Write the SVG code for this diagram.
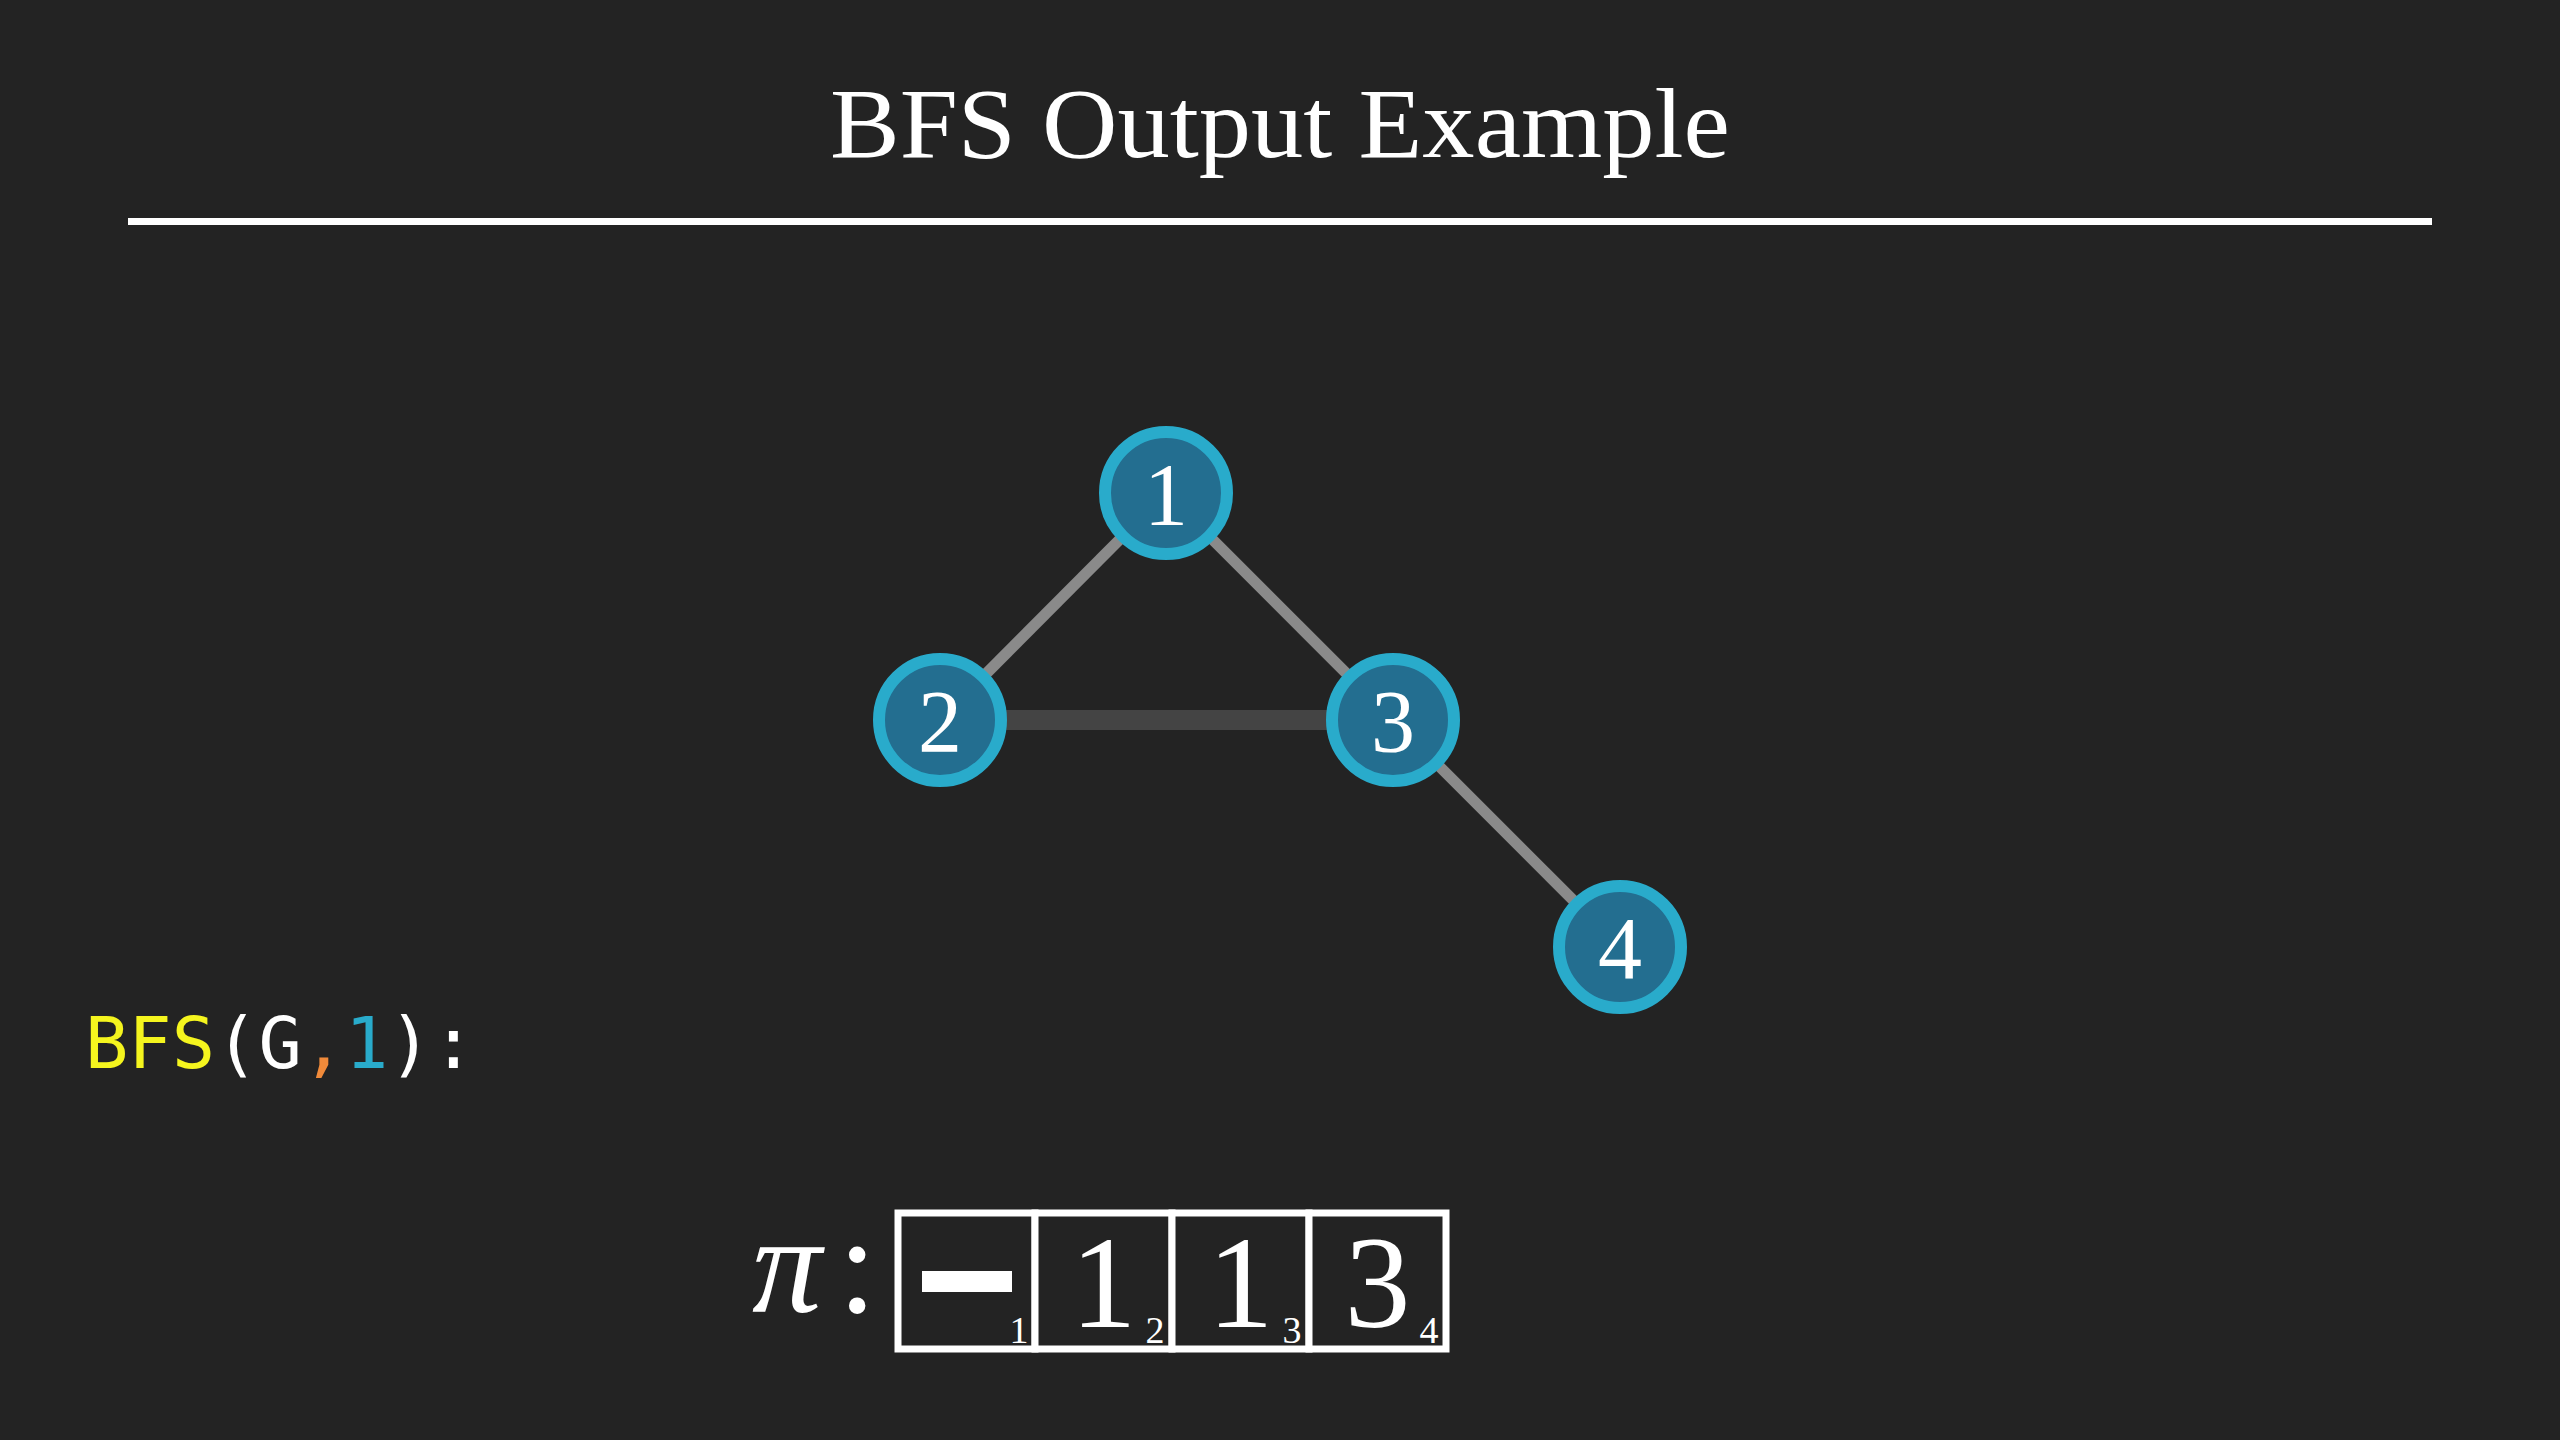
<svg xmlns="http://www.w3.org/2000/svg" width="2560" height="1440" viewBox="0 0 2560 1440">
<style>
.title{font-family:"Liberation Serif","DejaVu Serif",serif;font-size:100px;fill:#ffffff}
.node circle{fill:#236e90;stroke:#29abcb;stroke-width:12}
.node text{font-family:"Liberation Serif","DejaVu Serif",serif;font-size:88px;fill:#ffffff;text-anchor:middle}
.edge{stroke:#8a8a8a;stroke-width:11}
.edge.dim{stroke:#444444;stroke-width:20}
.code{font-family:"DejaVu Sans Mono","Liberation Mono",monospace;font-size:72px}
.cell{fill:#232323;stroke:#ffffff;stroke-width:7}
.big{font-family:"Liberation Serif","DejaVu Serif",serif;font-size:132px;fill:#ffffff;text-anchor:middle}
.sub{font-family:"Liberation Serif","DejaVu Serif",serif;font-size:38px;fill:#ffffff;text-anchor:middle}
.pi{font-family:"Liberation Serif","DejaVu Serif",serif;font-size:139px;fill:#ffffff}
</style>
<rect x="0" y="0" width="2560" height="1440" fill="#232323"/>
<g id="title">
<text class="title" x="1280" y="157" text-anchor="middle" textLength="900" lengthAdjust="spacingAndGlyphs">BFS Output Example</text>
<line x1="128" y1="221.5" x2="2432" y2="221.5" stroke="#ffffff" stroke-width="7"/>
</g>
<g id="connectors">
<line class="edge" x1="1166" y1="493" x2="940" y2="720"/>
<line class="edge" x1="1166" y1="493" x2="1393" y2="720"/>
<line class="edge dim" x1="940" y1="720" x2="1393" y2="720"/>
<line class="edge" x1="1393" y1="720" x2="1620" y2="947"/>
</g>
<g id="node1" class="node"><circle cx="1166" cy="493" r="61"/><text x="1166" y="524">1</text></g>
<g id="node2" class="node"><circle cx="940" cy="720" r="61"/><text x="940" y="751">2</text></g>
<g id="node3" class="node"><circle cx="1393" cy="720" r="61"/><text x="1393" y="751">3</text></g>
<g id="node4" class="node"><circle cx="1620" cy="947" r="61"/><text x="1620" y="978">4</text></g>
<g id="code">
<text class="code" x="85" y="1068"><tspan fill="#f5f51e">BFS</tspan><tspan fill="#ffffff">(G</tspan><tspan fill="#f08a3a">,</tspan><tspan fill="#29abcb">1</tspan><tspan fill="#ffffff">):</tspan></text>
</g>
<g id="pi-array">
<text class="pi" x="752" y="1312" font-style="italic">π</text>
<text class="pi" x="838" y="1312">:</text>
<rect class="cell" x="898" y="1213" width="137" height="136"/>
<rect class="cell" x="1035" y="1213" width="137" height="136"/>
<rect class="cell" x="1172" y="1213" width="137" height="136"/>
<rect class="cell" x="1309" y="1213" width="137" height="136"/>
<rect x="922" y="1271" width="90" height="21" fill="#ffffff"/>
<text class="big" x="1103.5" y="1327">1</text>
<text class="big" x="1240.5" y="1327">1</text>
<text class="big" x="1377.5" y="1327">3</text>
<text class="sub" x="1019" y="1343">1</text>
<text class="sub" x="1155" y="1343">2</text>
<text class="sub" x="1292" y="1343">3</text>
<text class="sub" x="1429" y="1343">4</text>
</g>
</svg>
